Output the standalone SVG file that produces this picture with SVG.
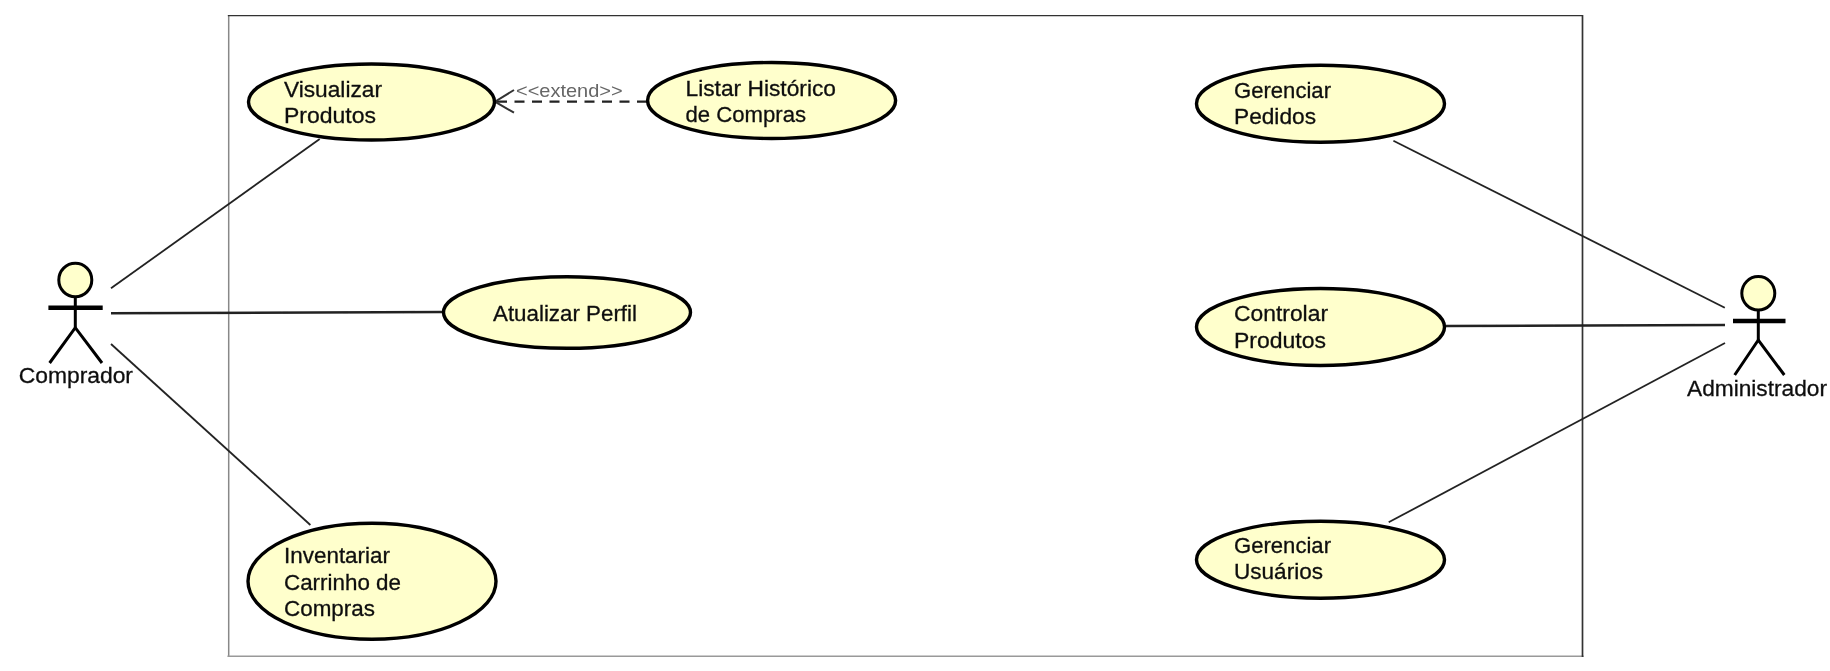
<svg xmlns="http://www.w3.org/2000/svg" width="1830" height="671" viewBox="0 0 1830 671">
<style>
text{font-family:"Liberation Sans",Arial,sans-serif;font-size:21.5px;fill:#111;stroke:#111;stroke-width:.3}
.uc{fill:#ffffcc;stroke:#000;stroke-width:3.4}
.actor{fill:none;stroke:#000;stroke-width:3}
.arm{fill:none;stroke:#000;stroke-width:4.5}
.head{fill:#ffffcc;stroke:#000;stroke-width:3}
.assoc{fill:none;stroke:#222;stroke-width:1.8}
.dash{fill:none;stroke:#222;stroke-width:2.2;stroke-dasharray:10 7.5}
.open{fill:none;stroke:#333;stroke-width:2}
text.st{font-size:19px;fill:#666;stroke:none}
.frame{fill:none;stroke-linecap:square}
</style>
<defs><filter id="soft" x="0" y="0" width="100%" height="100%"><feGaussianBlur stdDeviation="0.55"/></filter></defs>
<rect width="1830" height="671" fill="#fff"/>
<g filter="url(#soft)">
<g id="system">
<path class="frame" d="M228.7 656.7V15.3" stroke="#888" stroke-width="1.5"/>
<path class="frame" d="M228.7 656.7H1582.5" stroke="#999" stroke-width="2.5"/>
<path class="frame" d="M228.7 15.3H1582.5V656.7" stroke="#333" stroke-width="1.7"/>
</g>
<g id="connectors">
<line class="assoc" x1="111" y1="288.3" x2="319.7" y2="139"/>
<line class="assoc" x1="111" y1="313.3" x2="443.4" y2="312" style="stroke-width:2.4"/>
<line class="assoc" x1="111" y1="344" x2="310.4" y2="525"/>
<line class="assoc" x1="1393.4" y1="140.7" x2="1724.8" y2="307.7"/>
<line class="assoc" x1="1446" y1="326" x2="1725" y2="325" style="stroke-width:2.4"/>
<line class="assoc" x1="1388.7" y1="522.3" x2="1725" y2="343"/>
<line class="dash" x1="647" y1="101.7" x2="497" y2="101.7"/>
<polyline class="open" points="514,90 495,101.7 514,112.7"/>
<text class="st" x="516" y="97.3" textLength="106.7" lengthAdjust="spacingAndGlyphs">&lt;&lt;extend&gt;&gt;</text>
</g>
<g id="comprador">
<ellipse class="head" cx="75.3" cy="280" rx="16.5" ry="16.8"/>
<line class="arm" x1="48.4" y1="307.7" x2="102.7" y2="307.7"/>
<polyline class="actor" points="75.3,296.8 75.3,327.7"/>
<polyline class="actor" points="49.6,363 75.3,327.7 102,363"/>
<text x="18.7" y="383" textLength="114.3" lengthAdjust="spacingAndGlyphs">Comprador</text>
</g>
<g id="administrador">
<ellipse class="head" cx="1758.3" cy="293.3" rx="16.5" ry="16.7"/>
<line class="arm" x1="1733" y1="321" x2="1785.5" y2="321"/>
<polyline class="actor" points="1758.3,310 1758.3,340"/>
<polyline class="actor" points="1734.7,375 1758.3,340 1784.3,375"/>
<text x="1687" y="396" textLength="140" lengthAdjust="spacingAndGlyphs">Administrador</text>
</g>
<g id="visualizar">
<ellipse class="uc" cx="371.5" cy="102" rx="123" ry="38"/>
<text x="284" y="96.7" textLength="98" lengthAdjust="spacingAndGlyphs">Visualizar</text>
<text x="284" y="122.7" textLength="92" lengthAdjust="spacingAndGlyphs">Produtos</text>
</g>
<g id="listar">
<ellipse class="uc" cx="771.6" cy="100.5" rx="124" ry="38"/>
<text x="685.5" y="95.7" textLength="150.5" lengthAdjust="spacingAndGlyphs">Listar Histórico</text>
<text x="685.5" y="121.7" textLength="120.5" lengthAdjust="spacingAndGlyphs">de Compras</text>
</g>
<g id="atualizar">
<ellipse class="uc" cx="567" cy="312.5" rx="123.5" ry="35.8"/>
<text x="493" y="320.7" textLength="144" lengthAdjust="spacingAndGlyphs">Atualizar Perfil</text>
</g>
<g id="inventariar">
<ellipse class="uc" cx="372" cy="581.3" rx="124" ry="58"/>
<text x="284" y="563.3" textLength="106" lengthAdjust="spacingAndGlyphs">Inventariar</text>
<text x="284" y="590" textLength="117" lengthAdjust="spacingAndGlyphs">Carrinho de</text>
<text x="284" y="616" textLength="91" lengthAdjust="spacingAndGlyphs">Compras</text>
</g>
<g id="pedidos">
<ellipse class="uc" cx="1320.5" cy="103.7" rx="124" ry="38.5"/>
<text x="1234" y="97.7" textLength="97" lengthAdjust="spacingAndGlyphs">Gerenciar</text>
<text x="1234" y="124" textLength="82" lengthAdjust="spacingAndGlyphs">Pedidos</text>
</g>
<g id="controlar">
<ellipse class="uc" cx="1320.5" cy="327" rx="124" ry="38.5"/>
<text x="1234" y="321" textLength="94" lengthAdjust="spacingAndGlyphs">Controlar</text>
<text x="1234" y="347.7" textLength="92" lengthAdjust="spacingAndGlyphs">Produtos</text>
</g>
<g id="usuarios">
<ellipse class="uc" cx="1320.5" cy="559.7" rx="124" ry="38.5"/>
<text x="1234" y="553.3" textLength="97" lengthAdjust="spacingAndGlyphs">Gerenciar</text>
<text x="1234" y="579.3" textLength="89" lengthAdjust="spacingAndGlyphs">Usuários</text>
</g>
</g>
</svg>
